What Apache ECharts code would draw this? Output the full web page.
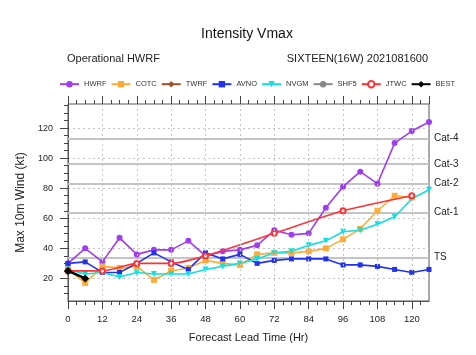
<!DOCTYPE html>
<html><head><meta charset="utf-8">
<script src="https://cdn.jsdelivr.net/npm/echarts@6/dist/echarts.min.js"></script>
<style>html,body{margin:0;padding:0;background:#fff}#c{width:476px;height:355px}</style>
</head><body><div id="c"></div>
<script>
const hours = [0,6,12,18,24,30,36,42,48,54,60,66,72,78,84,90,96,102,108,114,120,126];
const hwrf = [30,40,31,47,36,39,39,45,35,38,39,42,52,49,50,67,81,91,83,110,118,124];
const cotc = [26,17,28,27,28,19,25,27,32,30,29,36,37,37,38,40,46,53,65,75,74];
const avno = [30,31,24,24,30,37,31,26,37,33,36,30,32,33,33,33,29,29,28,26,24,26];
const nvgm = [26,23,24,21,24,23,23,23,26,28,30,33,37,38,42,45,51,52,56,61,73,79];
const jtwcHours = [0,12,24,36,48,72,96,120];
const jtwc = [25,25,30,30,35,50,65,75];
const bestHours = [0,6];
const best = [25,20];
const twrf = [];
const shf5 = [];
const catValues = [34,64,83,96,113];
const catLabels = ['TS','Cat-1','Cat-2','Cat-3','Cat-4'];
const xTickLabels = [0,12,24,36,48,60,72,84,96,108,120];
const yTickLabels = [20,40,60,80,100,120];
const xMinorTicks = [3,6,9,15,18,21,27,30,33,39,42,45,51,54,57,63,66,69,75,78,81,87,90,93,99,102,105,111,114,117,123];
const yMinorTicks = [10,15,25,30,35,45,50,55,65,70,75,85,90,95,105,110,115,125,130,135];

const FONT = 'Liberation Sans';
const pair = (xs, ys) => ys.map((v, i) => [xs[i], v]);
const gridBox = {left: 68, right: 47, top: 104, bottom: 54};
const tickColor = '#444';
const gridLine = {show: true, lineStyle: {color: '#c4c4c4', type: [2, 3], width: 1}};

function lineSeries(name, color, data, symbol, extra) {
  return Object.assign({
    name, type: 'line', data, xAxisIndex: 0, yAxisIndex: 0,
    symbol, symbolSize: 6, showAllSymbol: true,
    lineStyle: {color, width: 1.6}, itemStyle: {color},
    animation: false
  }, extra || {});
}

const option = {
  animation: false,
  textStyle: {fontFamily: FONT},
  grid: [
    Object.assign({show: true, borderColor: '#555', borderWidth: 1, backgroundColor: 'transparent'}, gridBox),
    Object.assign({show: false}, gridBox)
  ],
  legend: {
    left: 54, top: 75, itemWidth: 19, itemHeight: 8, itemGap: 4,
    textStyle: {fontFamily: FONT, fontSize: 7.5, color: '#333'},
    data: ['HWRF','COTC','TWRF','AVNO','NVGM','SHF5','JTWC','BEST']
  },
  graphic: [
    {type: 'text', x: 247, y: 34, style: {text: 'Intensity Vmax', font: '14px "Liberation Sans"', fill: '#111', textAlign: 'center', textVerticalAlign: 'middle'}},
    {type: 'text', x: 67, y: 59, style: {text: 'Operational HWRF', font: '11px "Liberation Sans"', fill: '#222', textAlign: 'left', textVerticalAlign: 'middle'}},
    {type: 'text', x: 428, y: 59, style: {text: 'SIXTEEN(16W) 2021081600', font: '11px "Liberation Sans"', fill: '#222', textAlign: 'right', textVerticalAlign: 'middle'}}
  ],
  xAxis: [
    {gridIndex: 0, type: 'value', position: 'bottom', min: 0, max: 126, interval: 12,
     name: 'Forecast Lead Time (Hr)', nameLocation: 'middle', nameGap: 31,
     nameTextStyle: {fontFamily: FONT, fontSize: 11, color: '#222'},
     axisLine: {show: true, lineStyle: {color: '#555'}},
     axisTick: {show: true, length: 8, lineStyle: {color: tickColor}},
     axisLabel: {fontFamily: FONT, fontSize: 9.5, color: '#222', margin: 13, showMaxLabel: false,
       formatter: v => xTickLabels.indexOf(v) >= 0 ? String(v) : ''},
     splitLine: {show: false}},
    {gridIndex: 0, type: 'value', position: 'top', min: 0, max: 126, interval: 12,
     axisLine: {show: false}, axisLabel: {show: false}, splitLine: {show: false},
     axisTick: {show: true, length: 8, lineStyle: {color: tickColor}}},
    {gridIndex: 1, type: 'value', position: 'bottom', min: 0, max: 126,
     axisLine: {show: false}, axisLabel: {show: false}, splitLine: {show: false},
     axisTick: {show: true, length: 4, customValues: xMinorTicks, lineStyle: {color: tickColor}}},
    {gridIndex: 1, type: 'value', position: 'top', min: 0, max: 126,
     axisLine: {show: false}, axisLabel: {show: false}, splitLine: {show: false},
     axisTick: {show: true, length: 4, customValues: xMinorTicks, lineStyle: {color: tickColor}}}
  ],
  yAxis: [
    {gridIndex: 0, type: 'value', position: 'left', min: 5, max: 136, splitNumber: 7,
     name: 'Max 10m Wind (kt)', nameLocation: 'middle', nameGap: 36,
     nameTextStyle: {fontFamily: FONT, fontSize: 12, color: '#222'},
     axisLine: {show: true, lineStyle: {color: '#555'}},
     axisTick: {show: true, length: 8, customValues: yTickLabels, lineStyle: {color: tickColor}},
     axisLabel: {fontFamily: FONT, fontSize: 9, color: '#222', margin: 15, customValues: yTickLabels},
     splitLine: gridLine},
    {gridIndex: 1, type: 'value', position: 'left', min: 5, max: 136,
     axisLine: {show: false}, axisLabel: {show: false}, splitLine: {show: false},
     axisTick: {show: true, length: 4, customValues: yMinorTicks, lineStyle: {color: tickColor}}}
  ],
  series: [
    {name: 'grid', type: 'line', data: [], xAxisIndex: 0, yAxisIndex: 0, z: 0,
     markLine: {silent: true, symbol: 'none', animation: false, label: {show: false},
       lineStyle: {color: '#c4c4c4', type: [2, 3], width: 1},
       data: xTickLabels.slice(1).map(v => ({xAxis: v}))}},
    lineSeries('HWRF', '#a23cf0', pair(hours, hwrf), 'circle', {
      z: 3,
      markLine: {
        silent: true, symbol: 'none', z: 1,
        lineStyle: {color: '#c4c4c4', width: 2, type: 'solid'},
        label: {show: true, position: 'end', distance: 5, formatter: '{b}', fontFamily: FONT, fontSize: 10, color: '#222'},
        data: catValues.map((v, i) => ({yAxis: v, name: catLabels[i]}))
      }
    }),
    lineSeries('COTC', '#ffab3a', pair(hours, cotc), 'rect', {z: 3}),
    lineSeries('TWRF', '#a0522d', twrf, 'diamond', {z: 3}),
    lineSeries('AVNO', '#2233f0', pair(hours, avno), 'rect', {symbolSize: 5, z: 3}),
    lineSeries('NVGM', '#10e0e0', pair(hours, nvgm), 'triangle', {symbolRotate: 180, z: 3}),
    lineSeries('SHF5', '#888888', shf5, 'circle', {z: 3}),
    lineSeries('JTWC', '#ff3333', pair(jtwcHours, jtwc), 'emptyCircle', {symbolSize: 5, smooth: 0.2, z: 4}),
    lineSeries('BEST', '#000000', pair(bestHours, best), 'diamond', {symbolSize: 8, lineStyle: {color: '#000', width: 2.5}, z: 5})
  ]
};
const chart = echarts.init(document.getElementById('c'), null, {renderer: 'canvas'});
chart.setOption(option);
</script></body></html>
